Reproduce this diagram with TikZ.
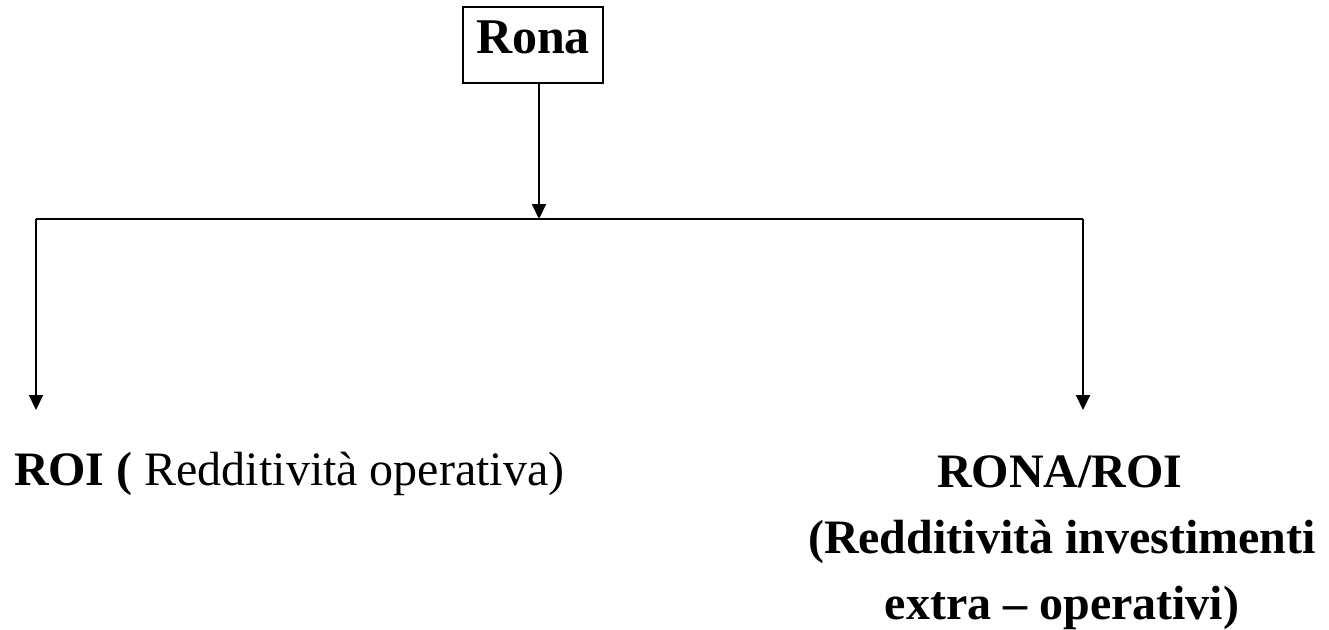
\documentclass[tikz,border=0pt]{standalone}
\usepackage{fontspec}
\setmainfont{Liberation Serif}
\usetikzlibrary{arrows.meta}
\begin{document}
\begin{tikzpicture}[
x=0.5pt,y=-0.5pt,
every node/.style={inner sep=0pt,outer sep=0pt,font=\fontsize{24}{33}\selectfont},
link/.style={line width=1pt},
down/.style={link,-{Triangle[width=7pt,length=7.5pt]}},
root/.style={draw,line width=0.8pt,font=\fontsize{25}{30}\selectfont\bfseries,minimum width=70pt,text height=23pt,text depth=15pt},
leaf/.style={anchor=base,align=center,font=\fontsize{24}{33}\selectfont\bfseries},
]
\useasboundingbox (0,0) rectangle (1329,629);
%\draw[help lines](0,0)grid(1329,629);
\node[root] (rona) at (533,45) {Rona};

\coordinate (hub) at (539,219);
\coordinate (lft) at (36,219);
\coordinate (rgt) at (1083,219);
\coordinate (lend) at (36,410);
\coordinate (rend) at (1083,410);

\draw[down] (rona.south -| hub) -- (hub);
\draw[link] (lft) -- (rgt);
\draw[down] (lft) -- (lend);
\draw[down] (rgt) -- (rend);

%Leaves
\node[anchor=base west] (roi) at (14,485) {\textbf{ROI (} Redditività operativa)};
\node[leaf] (ronaroi) at (1060,487) {RONA/ROI};
\node[leaf] (extra) at (1062,619) {(Redditività investimenti\\extra – operativi)};

\end{tikzpicture}
\end{document}
